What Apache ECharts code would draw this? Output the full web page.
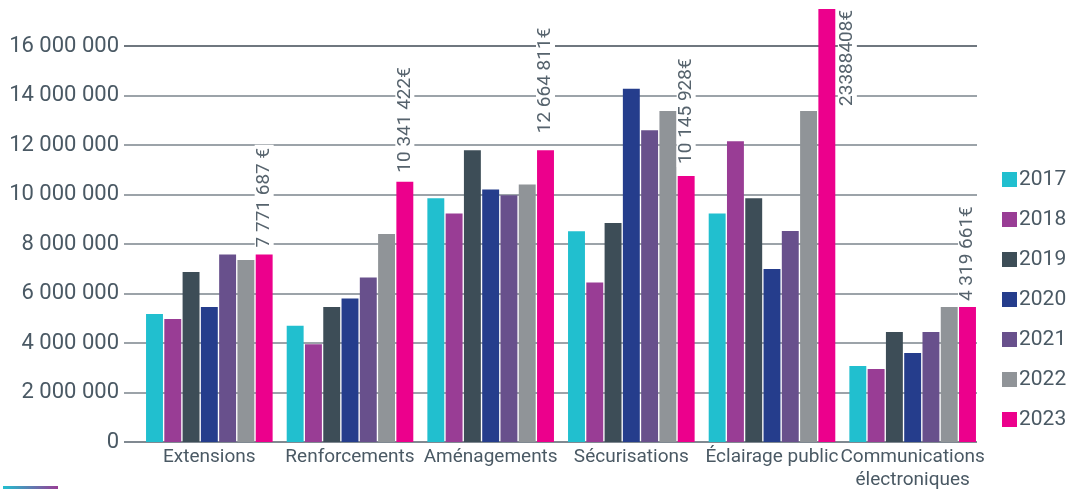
<!DOCTYPE html>
<html>
<head>
<meta charset="utf-8">
<script src="https://cdn.jsdelivr.net/npm/echarts@6/dist/echarts.min.js"></script>
<style>html,body{margin:0;padding:0;background:#fff;}#c{width:1069px;height:489px;}</style>
</head>
<body>
<div id="c"></div>
<script>
var categories = ['Extensions', 'Renforcements', 'Aménagements', 'Sécurisations', 'Éclairage public', 'Communications\nélectroniques'];
var years = ['2017', '2018', '2019', '2020', '2021', '2022', '2023'];
var v2017 = [5170000, 4700000, 9850000, 8520000, 9230000, 3070000];
var v2018 = [4970000, 3950000, 9230000, 6440000, 12150000, 2950000];
var v2019 = [6870000, 5450000, 11790000, 8850000, 9850000, 4440000];
var v2020 = [5450000, 5800000, 10200000, 14270000, 6990000, 3600000];
var v2021 = [7580000, 6650000, 9970000, 12600000, 8530000, 4440000];
var v2022 = [7350000, 8400000, 10400000, 13370000, 13370000, 5450000];
var v2023 = [7580000, 10520000, 11790000, 10750000, 17500000, 5450000];
var labels2023 = ['7 771 687 €', '10 341 422€', '12 664 811€', '10 145 928€', '23388408€', '4 319 661€'];
var yTicks = { min: 0, max: 16000000, interval: 2000000 };
var colors = ['#21bfcf', '#993d95', '#3d4d57', '#253d8c', '#68508c', '#909498', '#ec008c'];

var FONT = 'Roboto';
var TXT = '#4a5964';
function fmt(v) { return String(v).replace(/\B(?=(\d{3})+(?!\d))/g, ' '); }

var allValues = [v2017, v2018, v2019, v2020, v2021, v2022, v2023];
var series = years.map(function (y, i) {
  var s = {
    name: y, type: 'bar', xAxisIndex: 1, yAxisIndex: 1,
    barGap: '8%', barCategoryGap: '10%', clip: false,
    itemStyle: { color: colors[i] },
    data: allValues[i].slice()
  };
  if (i === 6) {
    s.data = allValues[i].map(function (v, k) {
      var lab = {
        show: true, rotate: 90, position: 'top', align: 'left', verticalAlign: 'middle',
        distance: [4, 6, 14, 9, 4, 3][k],
        formatter: labels2023[k],
        fontFamily: FONT, fontSize: 19, color: '#56636d',
        backgroundColor: '#fff', padding: [0, 3, 0, 3]
      };
      if (k === 4) {
        lab = {
          show: true, rotate: 90, position: [29, 1], align: 'right', verticalAlign: 'middle',
          formatter: labels2023[k], fontFamily: FONT, fontSize: 19, color: '#56636d',
          backgroundColor: '#fff', padding: [0, 0, 0, 0]
        };
      }
      return { value: v, label: lab };
    });
  }
  return s;
});

var chart = echarts.init(document.getElementById('c'), null, { renderer: 'canvas' });
chart.setOption({
  animation: false,
  color: colors,
  grid: [
    { left: 124, right: 92, top: 46, bottom: 47, containLabel: false, outerBoundsMode: 'none' },
    { left: 139, right: 86, top: 46, bottom: 47, containLabel: false, outerBoundsMode: 'none' }
  ],
  xAxis: [
    { type: 'category', gridIndex: 0, data: [''], show: false },
    {
      type: 'category', gridIndex: 1, data: categories,
      axisLine: { show: false }, axisTick: { show: false },
      axisLabel: { fontFamily: FONT, fontSize: 19, color: TXT, margin: 4, lineHeight: 23, interval: 0 }
    }
  ],
  yAxis: [
    {
      type: 'value', gridIndex: 0, min: yTicks.min, max: yTicks.max, interval: yTicks.interval,
      axisLine: { show: false }, axisTick: { show: false },
      splitLine: { lineStyle: { color: ['#56626c', '#7b858d', '#7b858d', '#7b858d', '#7b858d', '#7b858d', '#7b858d', '#7b858d', '#3f4a54'], width: 1.5 } },
      axisLabel: { fontFamily: FONT, fontSize: 22, color: TXT, margin: 5, formatter: fmt }
    },
    { type: 'value', gridIndex: 1, min: yTicks.min, max: yTicks.max, interval: yTicks.interval, show: false, splitLine: { show: false } }
  ],
  legend: {
    orient: 'vertical', left: 997, top: 164, itemWidth: 15, itemHeight: 15, itemGap: 19,
    icon: 'rect', data: years,
    textStyle: { fontFamily: FONT, fontSize: 21, color: TXT, padding: [0, 0, 0, -3] }
  },
  graphic: [{
    type: 'rect', left: 3, top: 486, shape: { width: 55, height: 3 },
    style: { fill: new echarts.graphic.LinearGradient(0, 0, 1, 0, [{ offset: 0, color: '#21bfcf' }, { offset: 1, color: '#993d95' }]) }
  }],
  series: series
});
</script>
</body>
</html>
